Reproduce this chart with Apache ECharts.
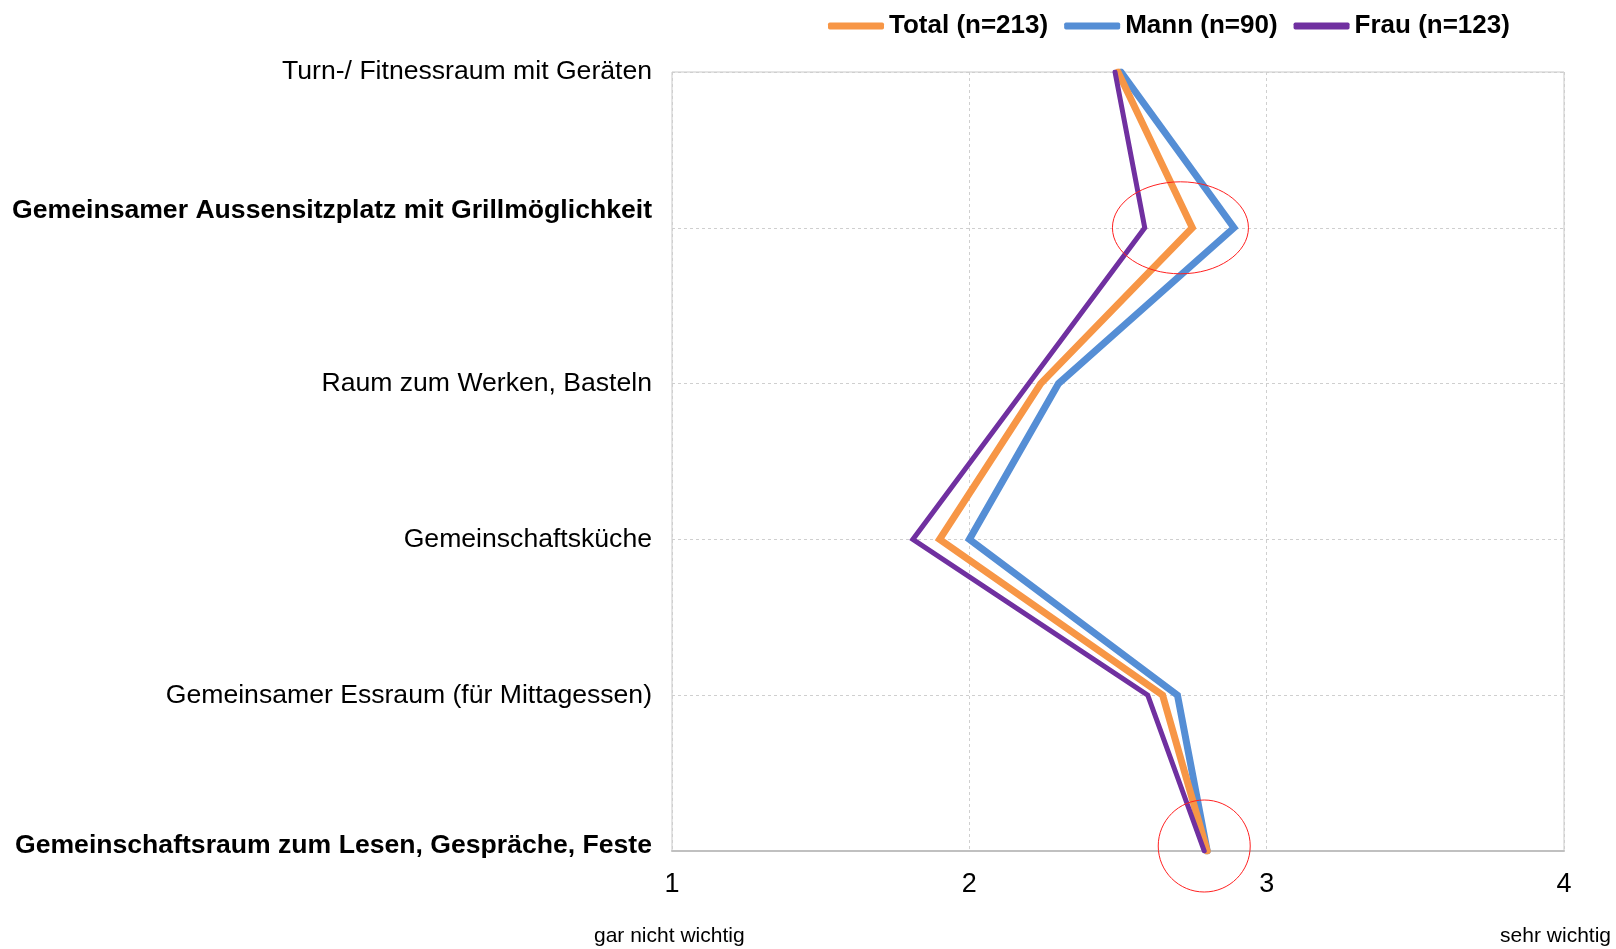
<!DOCTYPE html>
<html>
<head>
<meta charset="utf-8">
<script src="https://cdn.jsdelivr.net/npm/echarts@6/dist/echarts.min.js"></script>
<style>
    html, body { margin: 0; padding: 0; background: #fff; }
    #main { width: 1616px; height: 949px; }
</style>
</head>
<body>
<div id="main"></div>
<script>
'use strict';
// Daten
var categories = [
    'Turn-/ Fitnessraum mit Geräten',
    'Gemeinsamer Aussensitzplatz mit Grillmöglichkeit',
    'Raum zum Werken, Basteln',
    'Gemeinschaftsküche',
    'Gemeinsamer Essraum (für Mittagessen)',
    'Gemeinschaftsraum zum Lesen, Gespräche, Feste'
];
var boldCats = [1, 5];
var seriesNames = ['Total (n=213)', 'Mann (n=90)', 'Frau (n=123)'];
var total = [2.50, 2.75, 2.24, 1.90, 2.65, 2.80];
var mann = [2.51, 2.89, 2.30, 2.00, 2.70, 2.80];
var frau = [2.49, 2.59, 2.20, 1.81, 2.60, 2.79];
var xTicks = [1, 2, 3, 4];
var scaleLabels = ['gar nicht wichtig', 'sehr wichtig'];
// markierte Stellen [x, Kategorie-Index]
var marks = [[2.71, 1], [2.79, 5]];

var colors = ['#F79646', '#558ED5', '#7030A0'];
var font = 'Liberation Sans, Arial, sans-serif';

var myChart = echarts.init(document.getElementById('main'));

function mkSeries(name, data, color, width, z) {
    return {
        name: name,
        type: 'line',
        data: data,
        symbol: 'none',
        z: z,
        lineStyle: { color: color, width: width, cap: 'round', join: 'miter' },
        itemStyle: { color: color }
    };
}

// fette Beschriftungen sitzen im Original etwas über der Linie
var boldStyle = { fontFamily: font, fontSize: 26.6, fontWeight: 'bold', color: '#000' };

var option = {
    animation: false,
    color: colors,
    legend: {
        data: seriesNames,
        top: 8,
        left: 823,
        itemWidth: 56,
        itemHeight: 7,
        itemGap: 16,
        icon: 'roundRect',
        textStyle: { fontFamily: font, fontSize: 26, fontWeight: 'bold', color: '#000' }
    },
    grid: {
        left: 672,
        right: 52,
        top: 72,
        bottom: 98,
        show: true,
        borderColor: '#c8c8c8',
        borderWidth: 1
    },
    xAxis: {
        type: 'value',
        min: xTicks[0],
        max: xTicks[xTicks.length - 1],
        interval: 1,
        axisLine: { show: true, lineStyle: { color: '#c0c0c0', width: 2 } },
        axisTick: { show: false },
        axisLabel: { margin: 20, fontFamily: font, fontSize: 27, color: '#000' },
        splitLine: { show: true, lineStyle: { color: '#cfcfcf', type: [3, 3] } }
    },
    yAxis: {
        type: 'category',
        data: categories,
        inverse: true,
        boundaryGap: false,
        axisLine: { show: false },
        axisTick: { show: false },
        axisLabel: {
            margin: 20,
            fontFamily: font,
            fontSize: 26.6,
            color: '#000',
            formatter: function (v, i) {
                if (i === boldCats[0]) return '{b1|' + v + '}';
                if (i === boldCats[1]) return '{b2|' + v + '}';
                return v;
            },
            rich: {
                b1: echarts.util.extend({ padding: [0, 0, 34, 0] }, boldStyle),
                b2: echarts.util.extend({ padding: [0, 0, 10, 0] }, boldStyle)
            }
        },
        splitLine: { show: true, lineStyle: { color: '#cfcfcf', type: [3, 3] } }
    },
    series: [
        mkSeries(seriesNames[0], total, colors[0], 7, 3),
        mkSeries(seriesNames[1], mann, colors[1], 7, 2),
        mkSeries(seriesNames[2], frau, colors[2], 5, 4)
    ]
};
myChart.setOption(option);

// Ellipsen (Markierungen) und Skalenbeschriftung
var ellSize = [[68, 46, 0], [46, 46, -5]];
var graphics = [];
for (var i = 0; i < marks.length; i++) {
    var p = myChart.convertToPixel({ gridIndex: 0 }, [marks[i][0], categories[marks[i][1]]]);
    graphics.push({
        type: 'ellipse',
        shape: { cx: p[0], cy: p[1] + ellSize[i][2], rx: ellSize[i][0], ry: ellSize[i][1] },
        style: { fill: null, stroke: '#ff2020', lineWidth: 1 },
        z: 10
    });
}
var pLeft = myChart.convertToPixel({ gridIndex: 0 }, [xTicks[0], categories[categories.length - 1]]);
graphics.push({
    type: 'text',
    left: pLeft[0] - 78,
    top: 926,
    style: { text: scaleLabels[0], font: '21px ' + font, fill: '#000' }
});
graphics.push({
    type: 'text',
    right: 5,
    top: 926,
    style: { text: scaleLabels[1], font: '21px ' + font, fill: '#000' }
});
myChart.setOption({ graphic: graphics });
</script>
</body>
</html>
